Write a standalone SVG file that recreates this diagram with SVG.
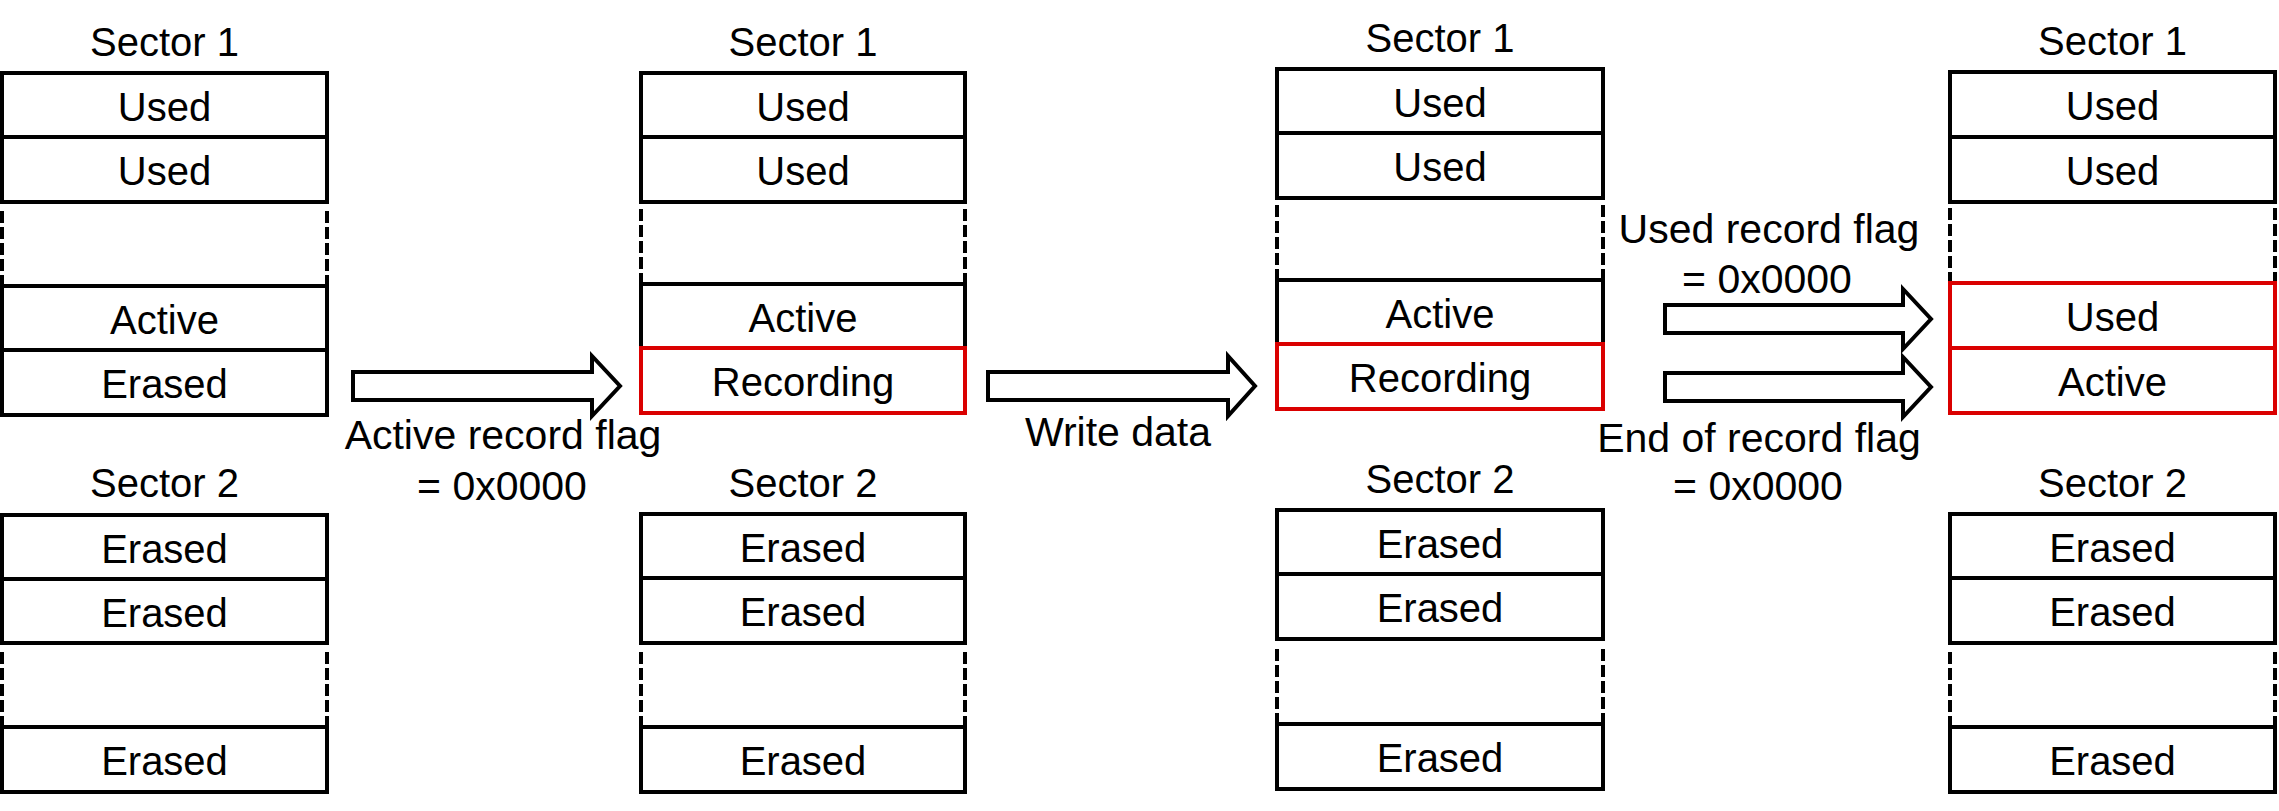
<svg xmlns="http://www.w3.org/2000/svg" width="2279" height="811" viewBox="0 0 2279 811">
<style>
text{font-family:"Liberation Sans",Arial,sans-serif;font-size:40px;fill:#000;text-anchor:middle}
.lbl{font-size:41px}
.c{fill:#fff;stroke:#000;stroke-width:4}
.r{fill:none;stroke:#DA0000;stroke-width:4}
.d{fill:none;stroke:#000;stroke-width:4;stroke-dasharray:12 4}
.ar{fill:#fff;stroke:#000;stroke-width:4;stroke-linejoin:miter}
</style>
<rect width="2279" height="811" fill="#fff"/>

<g id="col1-sector1">
<text x="164.5" y="56">Sector 1</text>
<rect class="c" x="2" y="73" width="325" height="64"/><text x="164.5" y="121">Used</text>
<rect class="c" x="2" y="137" width="325" height="65"/><text x="164.5" y="185">Used</text>
<path class="d" d="M2 211V286M327 211V286"/>
<rect class="c" x="2" y="286" width="325" height="64"/><text x="164.5" y="334">Active</text>
<rect class="c" x="2" y="350" width="325" height="65"/><text x="164.5" y="398">Erased</text>
</g>
<g id="col1-sector2">
<text x="164.5" y="497">Sector 2</text>
<rect class="c" x="2" y="515" width="325" height="64"/><text x="164.5" y="563">Erased</text>
<rect class="c" x="2" y="579" width="325" height="64"/><text x="164.5" y="627">Erased</text>
<path class="d" d="M2 652V727M327 652V727"/>
<rect class="c" x="2" y="727" width="325" height="65"/><text x="164.5" y="775">Erased</text>
</g>

<g id="col2-sector1">
<text x="803" y="56">Sector 1</text>
<rect class="c" x="641" y="73" width="324" height="64"/><text x="803" y="121">Used</text>
<rect class="c" x="641" y="137" width="324" height="65"/><text x="803" y="185">Used</text>
<path class="d" d="M641 209V284M965 209V284"/>
<rect class="c" x="641" y="284" width="324" height="64"/><text x="803" y="332">Active</text>
<rect class="c" x="641" y="348" width="324" height="65"/><rect class="r" x="641" y="348" width="324" height="65"/><text x="803" y="396">Recording</text>
</g>
<g id="col2-sector2">
<text x="803" y="497">Sector 2</text>
<rect class="c" x="641" y="514" width="324" height="64"/><text x="803" y="562">Erased</text>
<rect class="c" x="641" y="578" width="324" height="65"/><text x="803" y="626">Erased</text>
<path class="d" d="M641 652V727M965 652V727"/>
<rect class="c" x="641" y="727" width="324" height="65"/><text x="803" y="775">Erased</text>
</g>

<g id="col3-sector1">
<text x="1440" y="52">Sector 1</text>
<rect class="c" x="1277" y="69" width="326" height="64"/><text x="1440" y="117">Used</text>
<rect class="c" x="1277" y="133" width="326" height="65"/><text x="1440" y="181">Used</text>
<path class="d" d="M1277 205V280M1603 205V280"/>
<rect class="c" x="1277" y="280" width="326" height="64"/><text x="1440" y="328">Active</text>
<rect class="c" x="1277" y="344" width="326" height="65"/><rect class="r" x="1277" y="344" width="326" height="65"/><text x="1440" y="392">Recording</text>
</g>
<g id="col3-sector2">
<text x="1440" y="493">Sector 2</text>
<rect class="c" x="1277" y="510" width="326" height="64"/><text x="1440" y="558">Erased</text>
<rect class="c" x="1277" y="574" width="326" height="65"/><text x="1440" y="622">Erased</text>
<path class="d" d="M1277 649V724M1603 649V724"/>
<rect class="c" x="1277" y="724" width="326" height="65"/><text x="1440" y="772">Erased</text>
</g>

<g id="col4-sector1">
<text x="2112.5" y="55">Sector 1</text>
<rect class="c" x="1950" y="72" width="325" height="65"/><text x="2112.5" y="120">Used</text>
<rect class="c" x="1950" y="137" width="325" height="65"/><text x="2112.5" y="185">Used</text>
<path class="d" d="M1950 208V283M2275 208V283"/>
<rect class="c" x="1950" y="283" width="325" height="65"/><rect class="r" x="1950" y="283" width="325" height="65"/><text x="2112.5" y="331">Used</text>
<rect class="c" x="1950" y="348" width="325" height="65"/><rect class="r" x="1950" y="348" width="325" height="65"/><text x="2112.5" y="396">Active</text>
</g>
<g id="col4-sector2">
<text x="2112.5" y="497">Sector 2</text>
<rect class="c" x="1950" y="514" width="325" height="64"/><text x="2112.5" y="562">Erased</text>
<rect class="c" x="1950" y="578" width="325" height="65"/><text x="2112.5" y="626">Erased</text>
<path class="d" d="M1950 652V727M2275 652V727"/>
<rect class="c" x="1950" y="727" width="325" height="65"/><text x="2112.5" y="775">Erased</text>
</g>

<g id="connectors">
<polygon class="ar" points="353,372 592,372 592,356 620,386 592,416 592,400 353,400"/>
<polygon class="ar" points="988,372 1228,372 1228,356 1255,386 1228,416 1228,400 988,400"/>
<polygon class="ar" points="1665,305 1903,305 1903,289 1931,319 1903,349 1903,333 1665,333"/>
<polygon class="ar" points="1665,373 1903,373 1903,357 1931,387 1903,417 1903,401 1665,401"/>
<text class="lbl" x="503" y="449">Active record flag</text>
<text class="lbl" x="502" y="500">= 0x0000</text>
<text class="lbl" x="1118" y="446">Write data</text>
<text class="lbl" x="1769" y="243">Used record flag</text>
<text class="lbl" x="1767" y="293">= 0x0000</text>
<text class="lbl" x="1759" y="452">End of record flag</text>
<text class="lbl" x="1758" y="500">= 0x0000</text>
</g>
</svg>
